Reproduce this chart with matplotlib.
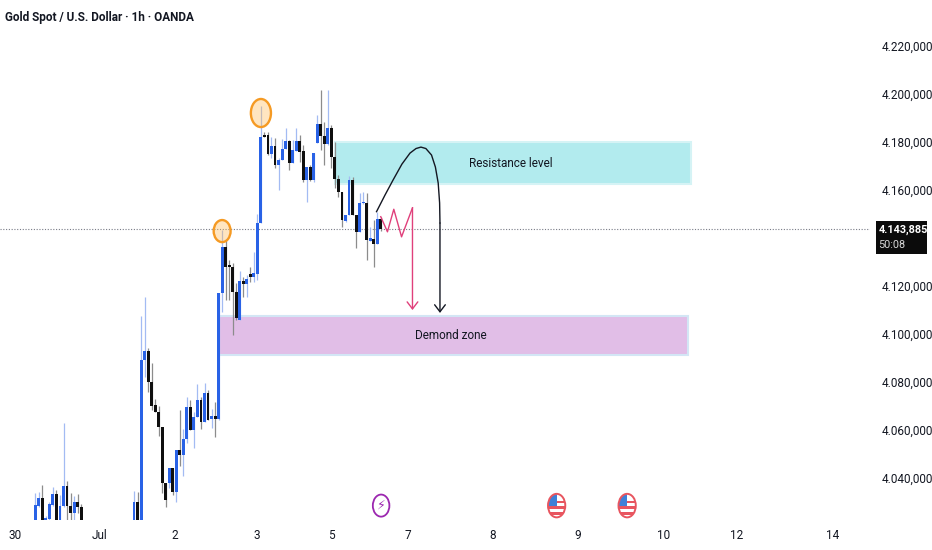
# %% Gold 1h chart
import matplotlib
matplotlib.use("Agg")
import numpy as np
import matplotlib.pyplot as plt
from matplotlib.patches import Ellipse, Rectangle

plt.rcParams['font.family'] = ['Roboto', 'DejaVu Sans']

# %% data, prices in thousands, index in hours
first_idx = list(range(0, 14))
first_open = [4020, 4028.5, 4031.6, 4020, 4022.8, 4028.8, 4033.2, 4020, 4028.5, 4036.8, 4028.5, 4025.3, 4030.2, 4027.8]
first_high = [4033.6, 4034.3, 4037.1, 4024, 4030, 4036.4, 4035, 4032.9, 4062.8, 4038.8, 4033.6, 4032.3, 4033.2, 4029]
first_low = [4020, 4028, 4020, 4020, 4022, 4028.4, 4020, 4020, 4028, 4020, 4020, 4020, 4025.3, 4020]
first_close = [4028.8, 4031.6, 4020, 4023.2, 4029.2, 4033.2, 4020, 4028.5, 4036.7, 4028.4, 4025.3, 4030.2, 4027.8, 4020]

second_idx = list(range(28, 99))
second_open = [4020, 4029.8, 4020, 4089.2, 4092.9, 4080.2, 4070.4, 4067.4, 4061.4, 4037.8, 4037.8, 4044.3,
               4034.3, 4051.7, 4049.6, 4056.2, 4069.5, 4060, 4065.6, 4072.5, 4063.5, 4075.6, 4064.5, 4065.9,
               4064.6, 4116.9, 4136.1, 4128, 4128, 4117.6, 4105.8, 4122.1, 4120.7, 4125, 4123.9, 4125.2,
               4146.4, 4182.9, 4182.9, 4175.2, 4178.4, 4170.4, 4172.5, 4177.1, 4180.5, 4171.4, 4176.3, 4180.5,
               4176.4, 4164.1, 4169.7, 4164.1, 4179.7, 4187.7, 4182.5, 4179, 4185.7, 4173.9, 4164.6, 4159.3,
               4147.2, 4149.8, 4164.1, 4149.8, 4142.6, 4154.4, 4154.8, 4138.9, 4139.4, 4137.5, 4147.9]
second_high = [4034.6, 4034.3, 4107.5, 4115.4, 4094, 4087.8, 4072.8, 4070, 4061.4, 4037.8, 4044.3, 4044.3,
               4051.7, 4068.4, 4060.3, 4073.6, 4072.5, 4067.7, 4079.2, 4073.9, 4079.4, 4076.7, 4068.6, 4071.7,
               4117, 4143.3, 4139.2, 4130.8, 4129.7, 4121.1, 4126.2, 4123.9, 4124.8, 4128, 4134.3, 4150.2,
               4195, 4184.3, 4184.3, 4182.2, 4181.5, 4173.2, 4181.1, 4185.9, 4180.8, 4180.8, 4185.9, 4182.9,
               4178.7, 4169.7, 4170.4, 4175.5, 4191.2, 4201.6, 4188.4, 4201.9, 4187.1, 4180.1, 4166.2, 4159.3,
               4149.8, 4165.8, 4165.5, 4149.8, 4158.6, 4159, 4158.6, 4144.7, 4147.5, 4150.9, 4148.9]
second_low = [4020, 4020, 4020, 4082, 4076, 4068.4, 4067.3, 4057.3, 4033.9, 4027.8, 4035.7, 4032.9,
              4030.2, 4044.8, 4040.9, 4054.5, 4060, 4052.7, 4065.6, 4060.3, 4063.5, 4064.2, 4060.7, 4057,
              4064, 4109, 4114.1, 4114.1, 4099.6, 4105.8, 4105.8, 4115.5, 4115.5, 4121.8, 4121.8, 4122.5,
              4146.4, 4181.9, 4174.6, 4173.2, 4169, 4160, 4172.5, 4177.1, 4168.3, 4171.1, 4176.2, 4171.8,
              4163.4, 4155.1, 4163.7, 4163.4, 4179.4, 4176.6, 4170.4, 4178.7, 4169, 4160.7, 4157.2, 4144.4,
              4146.8, 4149.6, 4149.6, 4135.9, 4142.6, 4154, 4130.8, 4138.6, 4128, 4137.5, 4142.9]
second_close = [4029.8, 4020, 4089.2, 4092.9, 4080.2, 4070.2, 4067.4, 4061.4, 4037.8, 4030.9, 4044.3, 4034.3,
                4051.7, 4049.6, 4056.2, 4069.5, 4060, 4065.6, 4072.5, 4063.5, 4075.6, 4064.2, 4065.9, 4064.5,
                4116.9, 4136.1, 4128, 4127.8, 4117.6, 4106.5, 4122.1, 4120.7, 4122.9, 4123.9, 4125.5, 4146.4,
                4182.2, 4182.2, 4175.2, 4178.4, 4170.4, 4172.5, 4177.1, 4180.5, 4171.4, 4176.6, 4180.5, 4175.9,
                4164.1, 4169.7, 4164.1, 4175.5, 4187.7, 4182.5, 4179, 4185.7, 4173.9, 4164.6, 4159.3, 4147.5,
                4149.8, 4164.1, 4149.8, 4142.6, 4154.4, 4154.8, 4139.1, 4140.2, 4137.5, 4147.9, 4143.885]

last_price = 4143.885
y_ticks = [4220, 4200, 4180, 4160, 4120, 4100, 4080, 4060, 4040]
y_labels = ['4.220,000', '4.200,000', '4.180,000', '4.160,000', '4.120,000',
            '4.100,000', '4.080,000', '4.060,000', '4.040,000']
x_ticks = [-5.8, 18.1, 39.6, 62.9, 83.9, 105.7, 129.8, 154, 178.1, 199, 226.3]
x_labels = ['30', 'Jul', '2', '3', '5', '7', '8', '9', '10', '12', '14']

# zones: left, right, bottom, top
resistance = (85, 186, 4162.5, 4180)
demand = (52, 185.2, 4091.25, 4107.5)

# hand drawn lines
curve_x = [96.8, 99.2, 101.5, 104, 106.3, 108, 109.4, 110.8, 112.4, 113.5, 114.3, 114.7, 114.8, 114.8]
curve_y = [4151, 4157.9, 4164.2, 4170.8, 4175.4, 4177.3, 4177.9, 4177.3, 4174.6, 4169.6, 4162.9, 4154.6, 4146.3, 4108.8]
zigzag_x = [98, 99.9, 101.7, 103.9, 107, 107]
zigzag_y = [4148.9, 4142.6, 4152, 4140.5, 4152.6, 4110]

# orange circles: x, y, width, height
circles = [(64, 4192.1, 5.7, 11.7), (53, 4142.9, 4.8, 9.2)]
event_y = 4028.5
bolt_x = 98.1
flag_xs = [147.9, 167.9]

# %% figure
fig = plt.figure(figsize=(9.32, 5.5), dpi=100)
ax = fig.add_axes([0, 30 / 550, 870 / 932, 520 / 550])
ax.set_xlim(-10.02, 236.8)
ax.set_ylim(4022.5, 4239.2)
for s in ax.spines.values():
    s.set_visible(False)

for name, z, face, edge in [('Resistance level', resistance, '#b2ebee', '#d5f3f5'),
                            ('Demond zone', demand, '#e1bee7', '#d3e6f5')]:
    ax.add_patch(Rectangle((z[0], z[2]), z[1] - z[0], z[3] - z[2], fc=face, ec=edge, lw=1.5, zorder=1))
    ax.text(135 if name[0] == 'R' else 118, (z[2] + z[3]) / 2, name,
            ha='center', va='center', fontsize=8.5, color='#131722', zorder=5)

ax.axhline(last_price, color='#787b86', lw=0.8, ls=(0, (1, 1.5)), zorder=2)


def draw_candles(idx, o, h, l, c):
    idx, o, h, l, c = map(np.array, (idx, o, h, l, c))
    up = c >= o
    colors = np.where(up, '#2962e6', '#0f0f0f')
    wicks = np.where(up, '#a3bbf3', '#8c8c8c')
    ax.vlines(idx, l, h, colors=wicks, lw=0.9, zorder=3)
    height = np.maximum(np.abs(c - o), 0.8)
    ax.bar(idx, height, bottom=np.minimum(o, c), width=0.82, color=colors, lw=0, zorder=4)


draw_candles(first_idx, first_open, first_high, first_low, first_close)
draw_candles(second_idx, second_open, second_high, second_low, second_close)

for x, y, w, h in circles:
    ax.add_patch(Ellipse((x, y), w, h, fc='#ffb74d', alpha=0.35, ec='none', zorder=5))
    ax.add_patch(Ellipse((x, y), w, h, fc='none', ec='#f59a23', lw=1.7, zorder=6))

ax.plot(curve_x[:-1], curve_y[:-1], color='#131722', lw=1, zorder=6)
ax.annotate('', xy=(curve_x[-1], curve_y[-1]), xytext=(curve_x[-2], curve_y[-2]),
            arrowprops=dict(arrowstyle='->,head_width=0.32,head_length=0.42', color='#131722', lw=1,
                            mutation_scale=12, shrinkA=0, shrinkB=0), zorder=6)
ax.plot(zigzag_x[:-1], zigzag_y[:-1], color='#e0407b', lw=1, zorder=6)
ax.annotate('', xy=(zigzag_x[-1], zigzag_y[-1]), xytext=(zigzag_x[-2], zigzag_y[-2]),
            arrowprops=dict(arrowstyle='->,head_width=0.32,head_length=0.42', color='#e0407b', lw=1,
                            mutation_scale=12, shrinkA=0, shrinkB=0), zorder=6)

# event icons
ax.add_patch(Ellipse((bolt_x, event_y), 4.7, 9.2, fc='white', ec='#9c27b0', lw=1.3, zorder=6))
ax.text(bolt_x, event_y, '\u26a1', color='#9c27b0', fontsize=9, ha='center', va='center',
        family='DejaVu Sans', zorder=7)
for fx in flag_xs:
    clip = Ellipse((fx, event_y), 4.8, 9.6, transform=ax.transData)
    parts = [Rectangle((fx - 2.5, event_y - 5), 5, 10, fc='white', ec='none')]
    for k in range(3):
        parts.append(Rectangle((fx - 2.5, event_y - 3.9 + k * 2.4), 5, 1.2, fc='#e8555f', ec='none'))
    parts.append(Rectangle((fx - 2.5, event_y - 0.3), 2.6, 5.3, fc='#3f80d8', ec='none'))
    for part in parts:
        part.set_zorder(6)
        ax.add_patch(part)
        part.set_clip_path(clip)
    ax.add_patch(Ellipse((fx, event_y), 4.9, 9.8, fc='none', ec='#e8555f', lw=1.4, zorder=7))

# %% axes text
ax.yaxis.tick_right()
ax.set_yticks(y_ticks, y_labels)
ax.tick_params(axis='y', length=0, pad=8.5, labelsize=8.5, labelcolor='#131722')
ax.set_xticks(x_ticks, x_labels)
ax.tick_params(axis='x', length=0, pad=6.5, labelsize=8.5, labelcolor='#131722')

fig.text(5 / 932, 1 - 18 / 550, 'Gold Spot / U.S. Dollar \u00b7 1h \u00b7 OANDA', fontsize=8.5,
         fontweight='bold', color='#131722', va='center', ha='left')

fig.patches.append(Rectangle((876 / 932, 1 - 254 / 550), 51 / 932, 33 / 550, transform=fig.transFigure,
                             fc='#0b0b0b', ec='none', figure=fig))
fig.text(878.5 / 932, 1 - 230 / 550, '4.143,885', color='white', fontsize=7.8, fontweight='bold', va='center')
fig.text(878.5 / 932, 1 - 245 / 550, '50:08', color='#d8d8d8', fontsize=7.8, va='center')

fig.savefig('out.png', dpi=100)
